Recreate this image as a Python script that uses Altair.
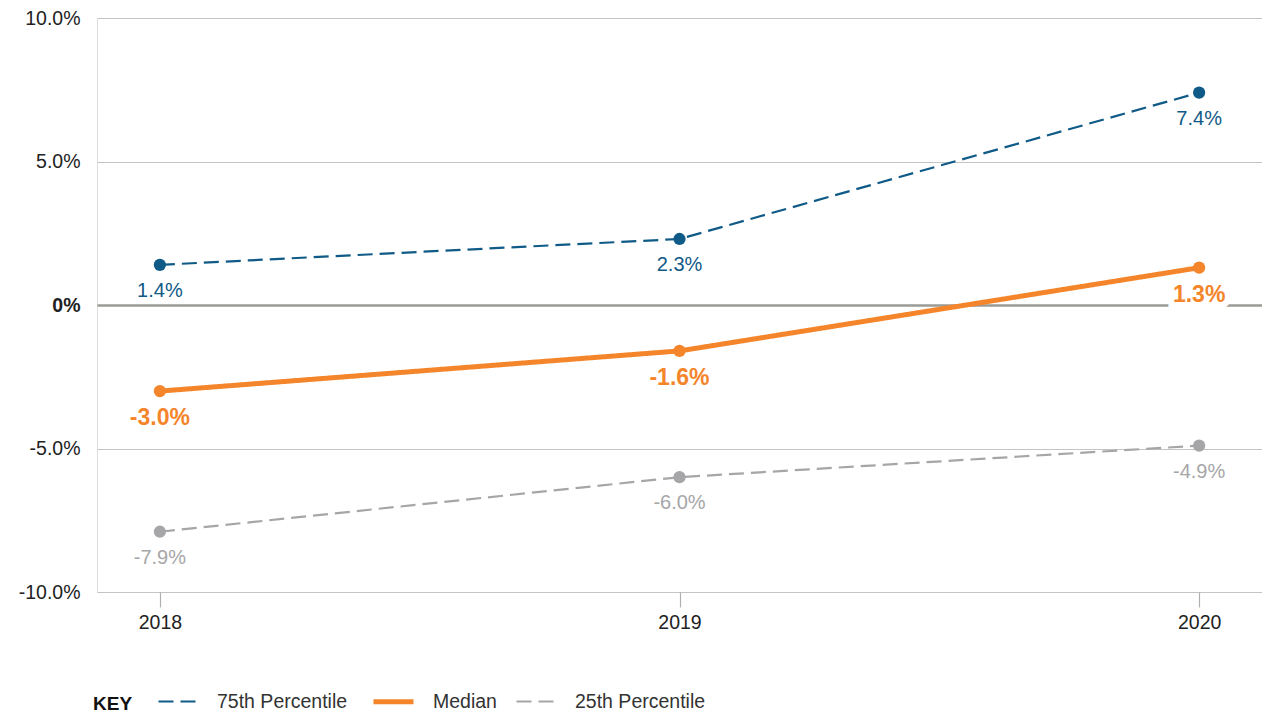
import altair as alt
import pandas as pd

years = ["2018", "2019", "2020"]
series = ["75th Percentile", "Median", "25th Percentile"]
p75 = [1.4, 2.3, 7.4]
median = [-3.0, -1.6, 1.3]
p25 = [-7.9, -6.0, -4.9]

rows = []
for name, vals in zip(series, [p75, median, p25]):
    for yr, v in zip(years, vals):
        rows.append({"year": yr, "series": name, "value": v})
df = pd.DataFrame(rows)

FONT = "Liberation Sans"
colors = ["#0f5a87", "#f5852a", "#a6a6a8"]

x = alt.X("year:N", scale=alt.Scale(type="point", padding=0.121),
          axis=alt.Axis(title=None, domain=False, grid=False, tickSize=15, tickColor="#b0b0b0",
                        tickWidth=1.2, labelFontSize=19.5, labelColor="#222222", labelPadding=6,
                        labelAngle=0, labelFont=FONT))
y = alt.Y("value:Q", scale=alt.Scale(domain=[-10, 10], nice=False),
          axis=alt.Axis(title=None, domain=False, ticks=False, values=[-10, -5, 0, 5, 10],
                        labelExpr="datum.value == 0 ? '0%' : (datum.value < 0 ? '-' : '') + format(abs(datum.value), '.1f') + '%'",
                        labelFontSize=19.5, labelColor="#222222", labelPadding=17, labelFont=FONT,
                        labelFontWeight={"condition": {"test": "datum.value == 0", "value": "bold"}, "value": "normal"},
                        gridColor={"condition": {"test": "datum.value == 0", "value": "#9a9a96"}, "value": "#c4c4c4"},
                        gridWidth={"condition": {"test": "datum.value == 0", "value": 2.5}, "value": 1}))

color = alt.Color("series:N", scale=alt.Scale(domain=series, range=colors),
                  legend=alt.Legend(title="KEY", orient="none", legendX=-4, legendY=661,
                                    direction="horizontal", titleOrient="left", titleFontSize=19,
                                    titleFontWeight="bold", titleColor="#111111", titleFont=FONT,
                                    titlePadding=24, labelFontSize=19.5, labelColor="#333333",
                                    labelFont=FONT, symbolType="stroke", symbolSize=1600,
                                    labelOffset=17, columnPadding=15, titleBaseline="top",
                                    titleAnchor="middle"))
dash = alt.StrokeDash("series:N", scale=alt.Scale(domain=series, range=[[15, 7], [1, 0], [15, 7]]),
                      legend=alt.Legend(title="KEY"))
width = alt.StrokeWidth("series:N", scale=alt.Scale(type="ordinal", domain=series, range=[2.2, 5, 2.2]),
                        legend=alt.Legend(title="KEY"))

base = alt.Chart(df)
lines = base.mark_line().encode(x=x, y=y, color=color, strokeDash=dash, strokeWidth=width)
points = base.mark_circle(size=150, opacity=1).encode(
    x=x, y=y, color=alt.Color("series:N", scale=alt.Scale(domain=series, range=colors), legend=None))

label_expr = "(datum.value < 0 ? '-' : '') + format(abs(datum.value), '.1f') + '%'"
other_text = base.transform_filter("datum.series != 'Median'").transform_calculate(
    lab=label_expr).mark_text(dy=26, fontSize=20, font=FONT).encode(
    x=x, y=y, text="lab:N",
    color=alt.Color("series:N", scale=alt.Scale(domain=series, range=colors), legend=None))
med_halo = base.transform_filter("datum.series == 'Median'").transform_calculate(
    lab=label_expr).mark_text(dy=27, fontSize=23, fontWeight="bold", font=FONT,
                              stroke="white", strokeWidth=12, fill="white").encode(
    x=x, y=y, text="lab:N")
med_text = base.transform_filter("datum.series == 'Median'").transform_calculate(
    lab=label_expr).mark_text(dy=27, fontSize=23, fontWeight="bold", font=FONT).encode(
    x=x, y=y, text="lab:N",
    color=alt.Color("series:N", scale=alt.Scale(domain=series, range=colors), legend=None))

chart = alt.layer(lines, points, other_text, med_halo, med_text).properties(
    width=1165, height=574,
    autosize=alt.AutoSizeParams(type="none"),
    padding={"left": 89, "top": 10, "right": 0, "bottom": 122},
).configure_view(stroke=None).configure(font=FONT)

chart.save("out.html", embed_options={"renderer": "svg", "actions": False})
